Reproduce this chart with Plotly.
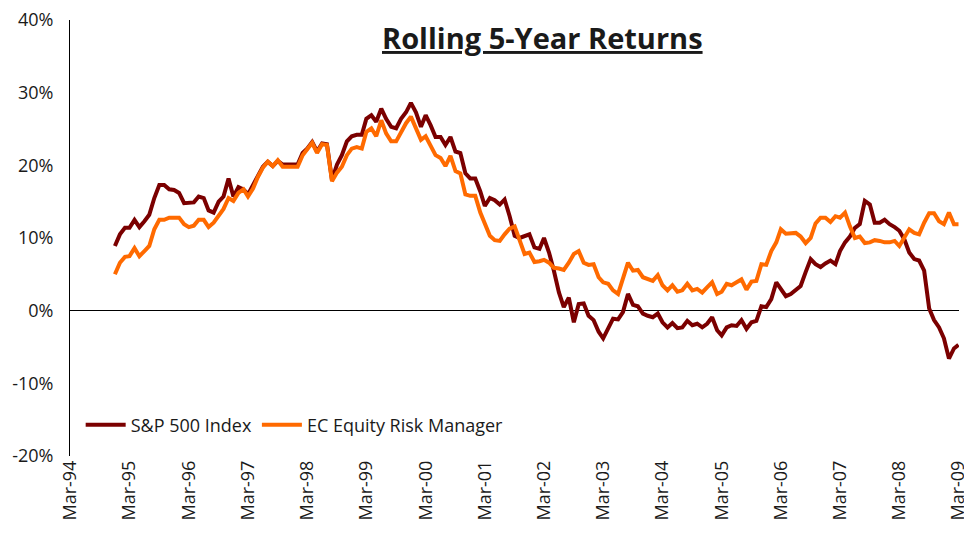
import pandas as pd
import plotly.graph_objects as go

# monthly rolling 5-year returns (%), Dec-94 .. Mar-09
start_month = "1994-12-01"

sp500 = [
    8.9, 10.5, 11.4, 11.4, 12.5, 11.5, 12.3, 13.2, 15.5, 17.3, 17.3, 16.7,
    16.6, 16.2, 14.8, 14.9, 14.9, 15.7, 15.5, 13.8, 13.5, 15.0, 15.7, 18.2,
    15.7, 17.0, 16.7, 16.0, 17.3, 18.5, 19.8, 20.5, 19.9, 20.6, 20.1, 20.1,
    20.1, 20.1, 21.7, 22.3, 23.2, 21.9, 23.0, 22.9, 18.0, 20.1, 21.4, 23.3,
    24.0, 24.2, 24.2, 26.4, 26.9, 26.0, 27.8, 26.4, 25.3, 25.1, 26.4, 27.3,
    28.6, 27.3, 25.3, 26.9, 25.5, 23.9, 23.9, 22.8, 23.9, 21.9, 21.7, 18.9,
    18.2, 18.2, 16.4, 14.4, 15.5, 15.2, 14.6, 15.3, 13.0, 10.3, 10.0, 10.3,
    10.5, 8.7, 8.5, 10.0, 8.0, 5.5, 2.5, 0.5, 1.8, -1.6, 0.9, 1.0,
    -0.7, -1.3, -2.9, -3.8, -2.5, -1.1, -1.2, -0.2, 2.3, 0.8, 0.6, -0.4,
    -0.7, -0.9, -0.4, -1.6, -2.3, -1.7, -2.4, -2.3, -1.4, -2.0, -1.8, -2.3,
    -1.8, -0.9, -2.7, -3.4, -2.3, -2.0, -2.1, -1.3, -2.5, -1.6, -1.4, 0.6,
    0.5, 1.6, 3.9, 3.0, 2.0, 2.3, 2.8, 3.4, 5.3, 7.1, 6.4, 6.0,
    6.5, 6.9, 6.4, 8.2, 9.4, 10.2, 11.4, 11.9, 15.1, 14.6, 12.1, 12.1,
    12.5, 11.9, 11.5, 11.0, 9.8, 8.0, 7.1, 6.9, 5.5, 0.3, -1.3, -2.3,
    -3.8, -6.6, -5.2, -4.7,
]

ec_erm = [
    5.0, 6.6, 7.4, 7.5, 8.6, 7.5, 8.2, 8.9, 11.2, 12.5, 12.5, 12.8,
    12.8, 12.8, 11.9, 11.5, 11.7, 12.5, 12.5, 11.5, 12.1, 13.0, 14.0, 15.5,
    15.1, 16.2, 16.7, 15.7, 16.8, 18.4, 19.7, 20.5, 19.9, 20.7, 19.8, 19.8,
    19.8, 19.8, 21.4, 22.2, 23.1, 21.7, 22.9, 22.8, 17.8, 19.0, 19.8, 21.4,
    22.3, 22.5, 22.3, 24.6, 25.1, 24.0, 26.2, 24.4, 23.3, 23.3, 24.6, 25.8,
    26.7, 25.1, 23.5, 24.0, 22.8, 21.4, 21.0, 19.9, 21.3, 19.2, 18.9, 16.0,
    15.8, 15.8, 13.5, 12.1, 10.3, 9.7, 9.6, 10.5, 11.3, 11.6, 9.8, 7.8,
    8.0, 6.7, 6.8, 7.0, 6.6, 5.9, 5.8, 5.6, 6.6, 7.8, 8.2, 6.6,
    6.3, 6.4, 4.6, 3.9, 3.7, 2.8, 2.3, 4.3, 6.6, 5.5, 5.6, 4.6,
    4.3, 4.1, 4.9, 3.5, 2.8, 3.5, 2.6, 2.8, 3.7, 2.8, 3.0, 2.5,
    3.2, 3.9, 2.3, 2.6, 3.7, 3.5, 3.9, 4.3, 2.9, 4.0, 4.1, 6.4,
    6.3, 8.2, 9.4, 11.2, 10.6, 10.7, 10.7, 10.2, 9.3, 10.0, 12.0, 12.8,
    12.8, 12.2, 13.0, 12.8, 13.5, 11.6, 10.0, 10.2, 9.3, 9.4, 9.7, 9.6,
    9.4, 9.4, 9.6, 8.9, 10.0, 11.2, 10.7, 10.5, 12.1, 13.4, 13.4, 12.3,
    11.9, 13.5, 11.9, 11.9,
]

tick_dates = [f"{y}-03-01" for y in range(1994, 2010)]
tick_labels = ["Mar-94", "Mar-95", "Mar-96", "Mar-97", "Mar-98", "Mar-99",
               "Mar-00", "Mar-01", "Mar-02", "Mar-03", "Mar-04", "Mar-05",
               "Mar-06", "Mar-07", "Mar-08", "Mar-09"]

y_ticks = [-20, -10, 0, 10, 20, 30, 40]
y_labels = ["-20%", "-10%", "0%", "10%", "20%", "30%", "40%"]

dates = pd.date_range(start_month, periods=len(sp500), freq="MS")

FONT = "Open Sans"
TXT = "#1a1a1a"

fig = go.Figure()
fig.add_trace(go.Scatter(x=dates, y=sp500, mode="lines", name="S&P 500 Index",
                         line=dict(color="#7b0000", width=4)))
fig.add_trace(go.Scatter(x=dates, y=ec_erm, mode="lines", name="EC Equity Risk Manager",
                         line=dict(color="#ff6a00", width=4)))

# page body adds an 8px offset, so the figure is sized to fit the window exactly
fig.update_layout(
    width=964, height=531,
    margin=dict(l=62, r=13, t=12, b=83),
    plot_bgcolor="white", paper_bgcolor="white",
    font=dict(family=FONT, size=18, color=TXT),
    showlegend=True,
    legend=dict(orientation="h", x=0.012, y=0.071, xanchor="left", yanchor="middle",
                bgcolor="rgba(0,0,0,0)", font=dict(size=18), itemwidth=40,
                tracegroupgap=0),
    annotations=[dict(
        text="<b><u>Rolling 5-Year Returns</u></b>",
        xref="paper", yref="paper", x=0.531, y=0.961,
        xanchor="center", yanchor="middle", showarrow=False,
        font=dict(family=FONT, size=29, color=TXT),
    )],
)

fig.update_xaxes(
    type="date", range=["1994-02-27", "2009-03-04"], automargin=False,
    tickmode="array", tickvals=tick_dates, ticktext=tick_labels,
    tickangle=-90, showgrid=False, showline=False, zeroline=False, ticks="",
    tickfont=dict(size=18, color=TXT), ticklabeloverflow="allow",
)
fig.update_yaxes(
    range=[-20, 40], automargin=False,
    tickmode="array", tickvals=y_ticks, ticktext=y_labels,
    showgrid=False, showline=True, linecolor="black", linewidth=1,
    zeroline=True, zerolinecolor="black", zerolinewidth=1,
    ticks="", ticklabelstandoff=12, tickfont=dict(size=18, color=TXT),
    ticklabeloverflow="allow",
)

fig.write_html("out.html")
